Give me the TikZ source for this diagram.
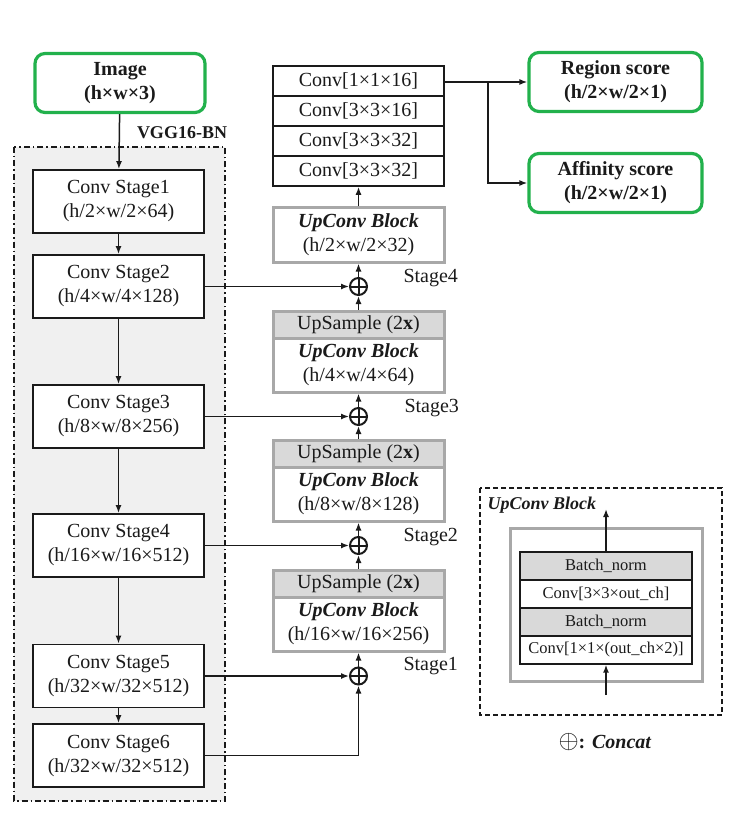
\documentclass[tikz,border=0pt]{standalone}
\usepackage{fontspec}
\setmainfont{Liberation Serif}
\usetikzlibrary{arrows.meta,positioning}
\definecolor{crtext}{HTML}{1A1A1A}
\definecolor{crgreen}{HTML}{22B14C}
\definecolor{crgray}{HTML}{A8A8A8}
\definecolor{crhead}{HTML}{D9D9D9}
\definecolor{crback}{HTML}{F0F0F0}

\begin{document}
\begin{tikzpicture}[x=1pt,y=-1pt,
    every node/.style={font=\fontsize{20}{24}\selectfont,text=crtext},
    iobox/.style={draw=crgreen,line width=3.2pt,rounded corners=10pt,fill=white,
      minimum width=170pt,minimum height=59pt,align=center,
      font=\fontsize{20}{24}\selectfont\bfseries},
    stagebox/.style={draw=crtext,line width=1.8pt,fill=white,
      minimum width=171pt,minimum height=63pt,align=center,inner sep=2pt},
    headrow/.style={draw=crtext,line width=1.6pt,fill=white,
      minimum width=171pt,minimum height=30pt,inner sep=0pt},
    upbody/.style={draw=crgray,line width=3pt,fill=white,
      minimum width=171pt,minimum height=54pt,align=center,inner sep=2pt},
    uphead/.style={draw=crgray,line width=3pt,fill=crhead,
      minimum width=171pt,minimum height=27pt,inner sep=0pt},
    legrow/.style={draw=crtext,line width=1.4pt,minimum width=172pt,
      minimum height=28pt,inner sep=0pt,font=\fontsize{16.5}{20}\selectfont},
    concat/.style={circle,draw=crtext,line width=2pt,minimum size=17pt,inner sep=0pt,
      path picture={\draw[line width=2pt,crtext]
        (path picture bounding box.north) -- (path picture bounding box.south)
        (path picture bounding box.west) -- (path picture bounding box.east);}},
    conn/.style={draw=crtext,line width=1.5pt,-{Latex[length=8pt,width=6pt]}},
    stagelbl/.style={anchor=west}
  ]
  \useasboundingbox (0,0) rectangle (743,826);

  % backbone
  \draw[crtext,line width=1.3pt,dash pattern=on 6pt off 3pt on 1.5pt off 3pt,fill=crback]
    (14,147) rectangle (225,801);
  \node[font=\fontsize{18}{22}\selectfont\bfseries] (vgg) at (182,133) {VGG16-BN};
  \node[iobox] (img) at (120,83) {Image\\(h×w×3)};

  \node[stagebox] (st1) at (118.5,201.5) {Conv Stage1\\(h/2×w/2×64)};
  \node[stagebox] (st2) at (118.5,286.5) {Conv Stage2\\(h/4×w/4×128)};
  \node[stagebox] (st3) at (118.5,416.5) {Conv Stage3\\(h/8×w/8×256)};
  \node[stagebox] (st4) at (118.5,545.5) {Conv Stage4\\(h/16×w/16×512)};
  \node[stagebox] (st5) at (118.5,676) {Conv Stage5\\(h/32×w/32×512)};
  \node[stagebox] (st6) at (118.5,755.5) {Conv Stage6\\(h/32×w/32×512)};

  \draw[conn] (img) -- (st1);
  \foreach \a/\b in {st1/st2,st2/st3,st3/st4,st4/st5,st5/st6}
    \draw[conn] (\a) -- (\b);

  % upconv path
  \node[uphead] (up1) at (358.5,583.5) {UpSample (2\textbf{x})};
  \node[upbody] (uc1) at (358.5,624) {\textbf{\textit{UpConv Block}}\\(h/16×w/16×256)};
  \node[uphead] (up2) at (358.5,453.5) {UpSample (2\textbf{x})};
  \node[upbody] (uc2) at (358.5,494) {\textbf{\textit{UpConv Block}}\\(h/8×w/8×128)};
  \node[uphead] (up3) at (358.5,324.5) {UpSample (2\textbf{x})};
  \node[upbody] (uc3) at (358.5,365) {\textbf{\textit{UpConv Block}}\\(h/4×w/4×64)};
  \node[upbody] (uc4) at (358.5,235) {\textbf{\textit{UpConv Block}}\\(h/2×w/2×32)};

  \node[concat] (add1) at (358.5,676) {};
  \node[concat] (add2) at (358.5,545.5) {};
  \node[concat] (add3) at (358.5,416.5) {};
  \node[concat] (add4) at (358.5,286.5) {};

  \node[stagelbl] (lbl1) at (400,666) {Stage1};
  \node[stagelbl] (lbl2) at (400,537) {Stage2};
  \node[stagelbl] (lbl3) at (401,408) {Stage3};
  \node[stagelbl] (lbl4) at (400,278) {Stage4};

  \draw[conn] (st2) -- (add4);
  \draw[conn] (st3) -- (add3);
  \draw[conn] (st4) -- (add2);
  \draw[conn] (st5) -- (add1);
  \draw[conn] (st6.east) -| (add1.south);
  \draw[conn] (add1) -- (uc1);
  \draw[conn] (up1) -- (add2);
  \draw[conn] (add2) -- (uc2);
  \draw[conn] (up2) -- (add3);
  \draw[conn] (add3) -- (uc3);
  \draw[conn] (up3) -- (add4);
  \draw[conn] (add4) -- (uc4);

  % head
  \node[headrow] (h1) at (358.5,81) {Conv[1×1×16]};
  \node[headrow] (h2) at (358.5,111) {Conv[3×3×16]};
  \node[headrow] (h3) at (358.5,141) {Conv[3×3×32]};
  \node[headrow] (h4) at (358.5,171) {Conv[3×3×32]};
  \draw[conn] (uc4) -- (h4);

  \node[iobox,minimum width=173pt] (rs) at (615.5,82) {Region score\\(h/2×w/2×1)};
  \node[iobox,minimum width=173pt] (as) at (615.5,183) {Affinity score\\(h/2×w/2×1)};
  \coordinate (br) at (488,82);
  \draw[conn] (h1.east |- rs.west) -- (rs.west);
  \draw[conn] (br) |- (as.west);

  % legend
  \draw[crtext,line width=1.3pt,dash pattern=on 5pt off 3pt] (480,488) rectangle (722,715);
  \node[anchor=west,font=\fontsize{18}{22}\selectfont\bfseries\itshape] (legt) at (484,505) {UpConv Block};
  \draw[crgray,line width=3pt] (510,528) rectangle (702,681);
  \node[legrow,fill=crhead] (bn1) at (606,566) {Batch\_norm};
  \node[legrow] (cv1) at (606,594) {Conv[3×3×out\_ch]};
  \node[legrow,fill=crhead] (bn2) at (606,622) {Batch\_norm};
  \node[legrow] (cv2) at (606,650) {Conv[1×1×(out\_ch×2)]};
  \coordinate (legin) at (606,695);
  \coordinate (legout) at (606,509);
  \draw[conn] (legin) -- (cv2);
  \draw[conn] (bn1) -- (legout);
  \node (cc) at (605,742) {\scalebox{1.25}{$\oplus$}\textbf{:} \textbf{\textit{Concat}}};
\end{tikzpicture}
\end{document}
